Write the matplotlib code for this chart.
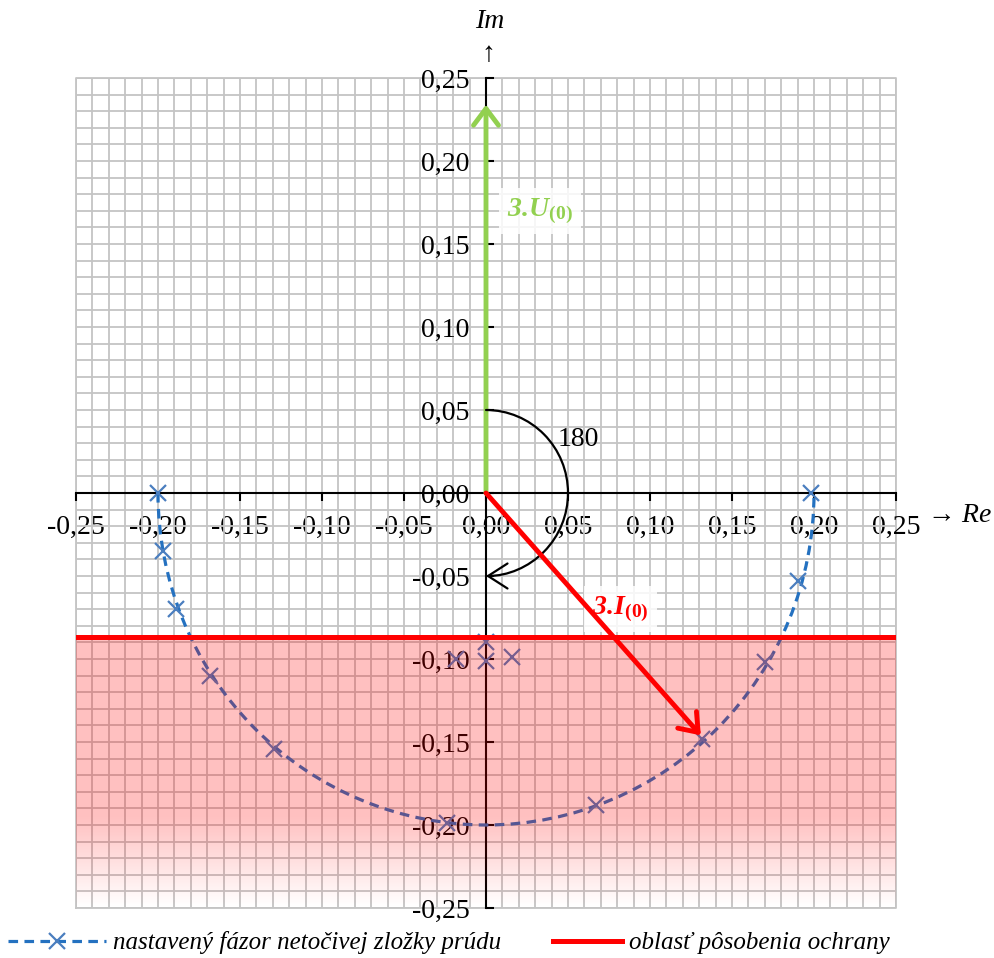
import numpy as np
import matplotlib
matplotlib.use("Agg")
import matplotlib.pyplot as plt
from matplotlib.patches import FancyArrowPatch, Arc
from matplotlib.path import Path
from matplotlib.ticker import MultipleLocator, FuncFormatter
from matplotlib.lines import Line2D

plt.rcParams['font.family'] = ['Liberation Serif', 'DejaVu Serif']
plt.rcParams['mathtext.fontset'] = 'custom'
plt.rcParams['mathtext.rm'] = 'Liberation Serif'
plt.rcParams['mathtext.it'] = 'Liberation Serif:italic'
plt.rcParams['mathtext.bf'] = 'Liberation Serif:bold'
plt.rcParams['mathtext.bfit'] = 'Liberation Serif:italic:bold'

# set current phasor (markers)
curve_re = [-0.200, -0.197, -0.189, -0.168, -0.129, -0.024, 0.067, 0.132, 0.170, 0.190, 0.198]
curve_im = [0.000, -0.035, -0.070, -0.110, -0.154, -0.199, -0.188, -0.148, -0.102, -0.053, 0.000]
r_set = 0.2
# loose markers near the centre
extra_re = [0.000, 0.000, -0.018, 0.016]
extra_im = [-0.090, -0.101, -0.100, -0.099]
# vectors
u0 = (0.0, 0.234)
i0 = (0.131, -0.146)
trip_level = -0.087
angle_r = 0.05
ticks = [-0.25, -0.20, -0.15, -0.10, -0.05, 0.0, 0.05, 0.10, 0.15, 0.20, 0.25]

blue = '#2471c0'
blue_m = '#4a7ebf'
green = '#92d050'
red = '#ff0000'

fig = plt.figure(figsize=(9.95, 9.58), dpi=100)
ax = fig.add_axes([76/995, 1-908/958, 820/995, 830/958])
ax.set_xlim(-0.25, 0.25)
ax.set_ylim(-0.25, 0.25)

ax.spines['left'].set_position('zero')
ax.spines['bottom'].set_position('zero')
ax.spines['right'].set_visible(False)
ax.spines['top'].set_visible(False)
for s in ['left', 'bottom']:
    ax.spines[s].set_linewidth(1.5)
    ax.spines[s].set_zorder(2.6)

ax.set_xticks(ticks)
ax.set_yticks(ticks)
ax.xaxis.set_minor_locator(MultipleLocator(0.01))
ax.yaxis.set_minor_locator(MultipleLocator(0.01))
fmt = FuncFormatter(lambda v, p: ('%.2f' % (0.0 if abs(v) < 1e-9 else v)).replace('.', ','))
ax.xaxis.set_major_formatter(fmt)
ax.yaxis.set_major_formatter(fmt)
ax.tick_params(axis='x', which='major', direction='out', length=6, width=1.5, labelsize=20, pad=10)
ax.tick_params(axis='y', which='major', direction='in', length=6, width=1.5, labelsize=20, pad=12)
ax.tick_params(which='minor', length=0)
ax.grid(True, which='both', color='#c4c4c4', linewidth=1.3)
ax.set_axisbelow(True)

# outer frame made by the grid
ax.plot([-0.25, 0.25, 0.25, -0.25, -0.25], [-0.25, -0.25, 0.25, 0.25, -0.25],
        color='#c4c4c4', lw=1.3, zorder=0.5, clip_on=False)

# set current curve
ax.add_patch(Arc((0, 0), 2*r_set, 2*r_set, theta1=180, theta2=360, color=blue,
                 lw=2.3, linestyle=(0, (3, 2)), zorder=3))
ax.plot(curve_re, curve_im, linestyle='none', marker='x', color=blue_m, ms=11, mew=1.6, zorder=3.1)
ax.plot(extra_re, extra_im, linestyle='none', marker='x', color=blue_m, ms=11, mew=1.6, zorder=3.1)

# voltage vector
ax.add_patch(FancyArrowPatch((0, 0), u0, arrowstyle='->,head_length=0.6,head_width=0.45',
                             mutation_scale=20, color=green, lw=3.5, shrinkA=0, shrinkB=0,
                             zorder=4))
ax.text(0.033, 0.170, r'$\mathbfit{3.\!U}_{\mathbf{(0)}}$', color=green, fontsize=20,
        ha='center', va='center', zorder=4.5,
        bbox=dict(boxstyle='square,pad=0.3', fc='white', ec='none', alpha=0.85))

# angle arc 180
verts = Path.arc(-90, 90).vertices[::-1] * angle_r
codes = Path.arc(-90, 90).codes
ax.add_patch(FancyArrowPatch(path=Path(verts, codes), arrowstyle='->,head_length=0.7,head_width=0.45',
                             mutation_scale=20, color='black', lw=1.6, zorder=4))
ax.text(0.056, 0.032, '180', fontsize=20, ha='center', va='center', zorder=4)

# protection area (shaded, fading out at the bottom)
yy = np.linspace(trip_level, -0.25, 200)
alpha = np.where(yy > -0.195, 0.25, 0.25 * (yy + 0.25) / 0.055)
rgba = np.zeros((len(yy), 2, 4))
rgba[..., 0] = 1.0
rgba[..., 3] = alpha[:, None]
ax.imshow(rgba, extent=[-0.25, 0.25, -0.25, trip_level], aspect='auto', origin='upper',
          interpolation='bilinear', zorder=5)
ax.axhline(trip_level, color=red, lw=3.6, zorder=6)

# current vector
ax.text(0.082, -0.070, r'$\mathbfit{3.\!I}_{\mathbf{(0)}}$', color=red, fontsize=20,
        ha='center', va='center', zorder=6,
        bbox=dict(boxstyle='square,pad=0.3', fc='white', ec='none', alpha=0.85))
ax.add_patch(FancyArrowPatch((0, 0), i0, arrowstyle='->,head_length=0.6,head_width=0.45',
                             mutation_scale=20, color=red, lw=3.5, shrinkA=0, shrinkB=0,
                             zorder=7))

# axis names
fig.text(490/995, 1-22/958, 'Im', fontsize=20, style='italic', ha='center', va='center')
fig.text(488/995, 1-55/958, '↑', fontsize=20, ha='center', va='center')
fig.text(960/995, 1-515/958, '→ $\\mathit{Re}$', fontsize=20, ha='center', va='center')

h_set = Line2D([], [], color=blue, lw=2.3, linestyle=(0, (3, 2)), marker='x',
               mec=blue_m, ms=11, mew=1.6)
h_trip = Line2D([], [], color=red, lw=3.6)
leg1 = fig.legend([h_set], ['nastavený fázor netočivej zložky prúdu'], loc='center left',
                  bbox_to_anchor=(8/995, 1-943/958), frameon=False, borderpad=0, borderaxespad=0,
                  prop={'style': 'italic', 'size': 18}, numpoints=1,
                  handlelength=3.9, handletextpad=0.3)
fig.legend([h_trip], ['oblasť pôsobenia ochrany'], loc='center left',
           bbox_to_anchor=(553/995, 1-943/958), frameon=False, borderpad=0, borderaxespad=0,
           prop={'style': 'italic', 'size': 18}, handlelength=2.75, handletextpad=0.3)

fig.savefig('out.png', dpi=100)
